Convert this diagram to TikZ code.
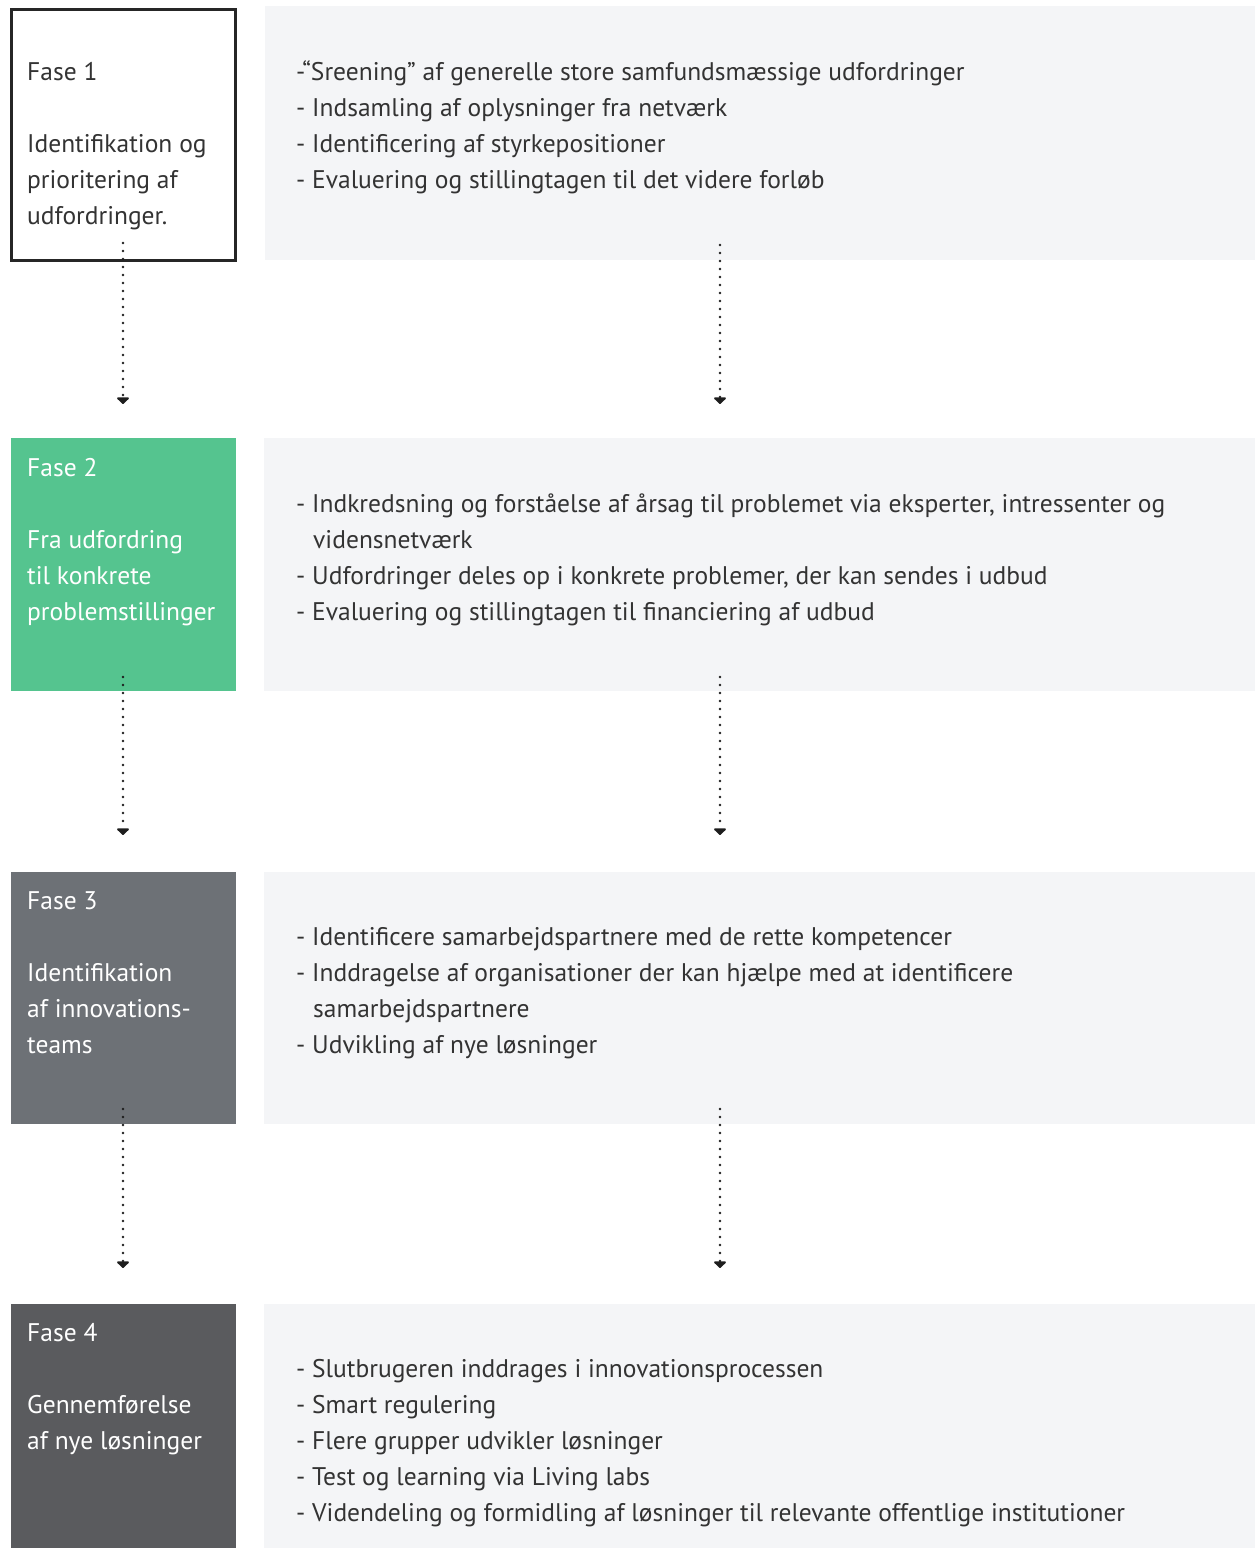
\documentclass[tikz,border=0pt]{standalone}
\usepackage{fontspec}
\setmainfont{PT Sans}
\usetikzlibrary{arrows.meta}
\definecolor{panel}{HTML}{F4F5F7}
\definecolor{fgreen}{HTML}{55C48F}
\definecolor{fgray}{HTML}{6D7176}
\definecolor{fdark}{HTML}{5A5B5E}
\definecolor{txt}{HTML}{333333}
\definecolor{dotc}{HTML}{1E1E1E}
\tikzset{
  panelbox/.style={fill=panel, draw=none},
  ln/.style={anchor=base west, inner sep=0pt, text=txt, font=\fontsize{25.5}{36}\selectfont},
  wln/.style={ln, text=white},
  flow/.style={line width=2.7pt, line cap=round, dash pattern=on 0pt off 8pt, dotc,
    -{Triangle[width=14pt,length=7pt,round=false,line cap=butt]}, shorten >=-1pt},
}
\begin{document}
\begin{tikzpicture}[x=1pt,y=-1pt]
\useasboundingbox (0,0) rectangle (1255,1548);
\fill[white] (0,0) rectangle (1255,1548);
% phase 1
\fill[panelbox] (265,6) rectangle (1255,260);
\node[draw=black!85, line width=2.5pt, fill=white, minimum width=224pt, minimum height=251pt, inner sep=0pt, anchor=north west] (b1) at (10.25,8.25) {};
\node[ln] (f1a) at (27,80) {Fase 1};
\node[ln] (f1b) at (27,152) {Identifikation og};
\node[ln] (f1c) at (27,188) {prioritering af};
\node[ln] (f1d) at (27,224) {udfordringer.};
\node[ln] (p1a) at (296,80) {-“Sreening” af generelle store samfundsmæssige udfordringer};
\node[ln] (p1b) at (296,116) {- Indsamling af oplysninger fra netværk};
\node[ln] (p1c) at (296,152) {- Identificering af styrkepositioner};
\node[ln] (p1d) at (296,188) {- Evaluering og stillingtagen til det videre forløb};
% phase 2
\fill[panelbox] (264,438) rectangle (1255,691);
\fill[fgreen] (11,438) rectangle (236,691);
\node[wln] (f2a) at (27,476) {Fase 2};
\node[wln] (f2b) at (27,548) {Fra udfordring};
\node[wln] (f2c) at (27,584) {til konkrete};
\node[wln] (f2d) at (27,620) {problemstillinger};
\node[ln] (p2a) at (296,512) {- Indkredsning og forståelse af årsag til problemet via eksperter, intressenter og};
\node[ln] (p2b) at (313,548) {vidensnetværk};
\node[ln] (p2c) at (296,584) {- Udfordringer deles op i konkrete problemer, der kan sendes i udbud};
\node[ln] (p2d) at (296,620) {- Evaluering og stillingtagen til financiering af udbud};
% phase 3
\fill[panelbox] (264,872) rectangle (1255,1124);
\fill[fgray] (11,872) rectangle (236,1124);
\node[wln] (f3a) at (27,909) {Fase 3};
\node[wln] (f3b) at (27,981) {Identifikation};
\node[wln] (f3c) at (27,1017) {af innovations-};
\node[wln] (f3d) at (27,1053) {teams};
\node[ln] (p3a) at (296,945) {- Identificere samarbejdspartnere med de rette kompetencer};
\node[ln] (p3b) at (296,981) {- Inddragelse af organisationer der kan hjælpe med at identificere};
\node[ln] (p3c) at (313,1017) {samarbejdspartnere};
\node[ln] (p3d) at (296,1053) {- Udvikling af nye løsninger};
% phase 4
\fill[panelbox] (264,1304) rectangle (1255,1548);
\fill[fdark] (11,1304) rectangle (236,1548);
\node[wln] (f4a) at (27,1341) {Fase 4};
\node[wln] (f4b) at (27,1413) {Gennemførelse};
\node[wln] (f4c) at (27,1449) {af nye løsninger};
\node[ln] (p4a) at (296,1377) {- Slutbrugeren inddrages i innovationsprocessen};
\node[ln] (p4b) at (296,1413) {- Smart regulering};
\node[ln] (p4c) at (296,1449) {- Flere grupper udvikler løsninger};
\node[ln] (p4d) at (296,1485) {- Test og learning via Living labs};
\node[ln] (p4e) at (296,1521) {- Videndeling og formidling af løsninger til relevante offentlige institutioner};
% connectors
\coordinate (l1s) at (123,243); \coordinate (l1e) at (123,403);
\coordinate (r1s) at (720,245); \coordinate (r1e) at (720,403);
\coordinate (l2s) at (123,677); \coordinate (l2e) at (123,834);
\coordinate (r2s) at (720,677); \coordinate (r2e) at (720,834);
\coordinate (l3s) at (123,1109); \coordinate (l3e) at (123,1267);
\coordinate (r3s) at (720,1109); \coordinate (r3e) at (720,1267);
\foreach \a/\b in {l1s/l1e, r1s/r1e, l2s/l2e, r2s/r2e, l3s/l3e, r3s/r3e}
  \draw[flow] (\a) -- (\b);
\end{tikzpicture}
\end{document}
